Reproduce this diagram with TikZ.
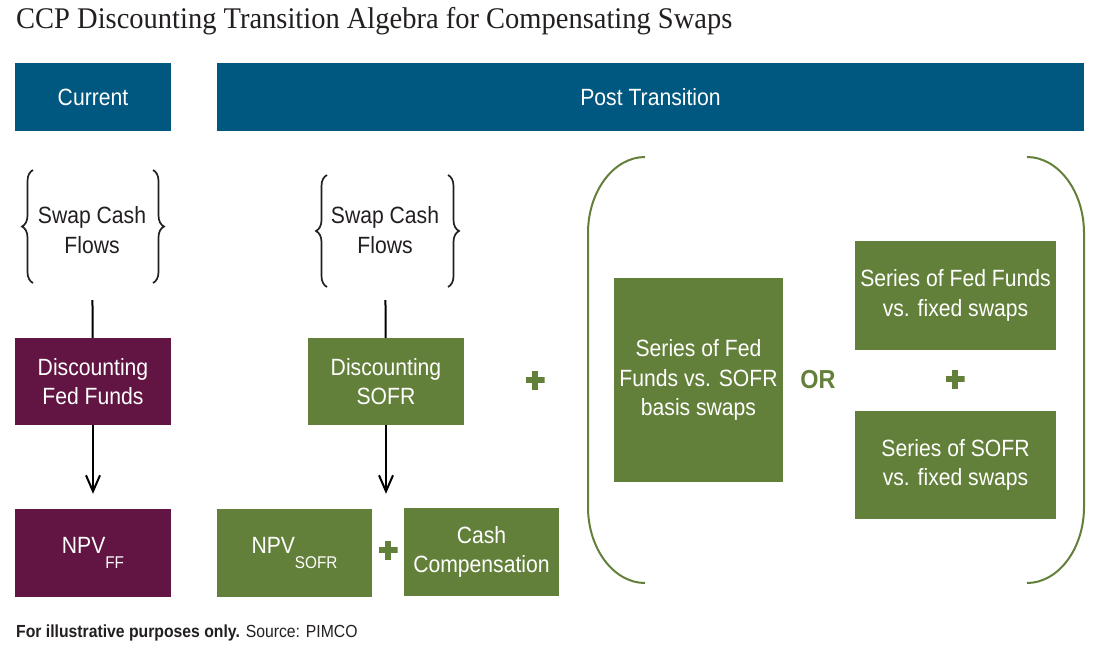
\documentclass[tikz,border=0pt]{standalone}
\usepackage{fontspec}
\setmainfont{Liberation Sans}[FakeStretch=0.9]
\newfontfamily\titlefont{Liberation Serif}[FakeStretch=0.95]
\usetikzlibrary{positioning, arrows.meta, decorations.pathreplacing}
\definecolor{pimcoblue}{RGB}{0,87,127}
\definecolor{pimcoplum}{RGB}{98,20,66}
\definecolor{pimcogreen}{RGB}{99,128,58}
\definecolor{inkgray}{RGB}{35,31,32}

\begin{document}
\begin{tikzpicture}[
x=1pt, y=-1pt,
    header/.style={fill=pimcoblue, text=white, minimum height=68pt, inner sep=0pt, font=\fontsize{23.5}{28}\selectfont},
    plumbox/.style={fill=pimcoplum, text=white, align=center, inner sep=0pt, font=\fontsize{23.5}{29.5}\selectfont},
    greenbox/.style={fill=pimcogreen, text=white, align=center, inner sep=0pt, font=\fontsize{23.5}{29.5}\selectfont},
    flows/.style={align=center, inner sep=0pt, minimum width=110pt, minimum height=140pt, text=inkgray, font=\fontsize{23.5}{29.5}\selectfont},
    curly/.style={draw=inkgray, line width=1.7pt, decorate, decoration={brace, amplitude=11pt}},
    line/.style={draw=black, line width=2pt},
    arrow/.style={line, -{Straight Barb[length=16pt, width=14pt]}, shorten >=15pt},
    plussign/.style={minimum size=19pt, inner sep=0pt, path picture={
        \fill[pimcogreen] ([shift={(-9.5pt,-3pt)}]path picture bounding box.center) rectangle +(19pt,6pt);
        \fill[pimcogreen] ([shift={(-3pt,-9.5pt)}]path picture bounding box.center) rectangle +(6pt,19pt);}},
    orword/.style={text=pimcogreen, inner sep=0pt, font=\bfseries\fontsize{26}{30}\selectfont},
    paren/.style={draw=pimcogreen, line width=2pt}
]
    \useasboundingbox (0,0) rectangle (1100,654);

    % --- Title and footnote ---
    \node[anchor=west, inner sep=0pt, text=inkgray, font=\titlefont\fontsize{30}{34}\selectfont] (title) at (16,21) {CCP Discounting Transition Algebra for Compensating Swaps};
    \node[anchor=west, inner sep=0pt, text=inkgray, font=\fontsize{17.5}{21}\selectfont] (source) at (16,633) {\textbf{For illustrative purposes only.} Source: PIMCO};

    % --- Column headers ---
    \node[header, minimum width=156pt] (current) at (93,97) {Current};
    \node[header, minimum width=867pt] (post) at (650.5,97) {Post Transition};

    % --- Current: Fed Funds discounting ---
    \node[flows] (flowsFF) at (92,230) {Swap Cash\\Flows};
    \draw[curly] (33,283) -- (33,170);
    \draw[curly] (153,170) -- (153,283);
    \node[plumbox, minimum width=156pt, minimum height=87pt] (discFF) at (93,381.5) {Discounting\\Fed Funds};
    \node[plumbox, minimum width=156pt, minimum height=88pt] (npvFF) at (93,553) {\raisebox{3pt}{NPV\raisebox{-15pt}{\fontsize{17}{17}\selectfont FF}}};
    \draw[line] (flowsFF) -- (discFF);
    \draw[arrow] (discFF) -- (npvFF);

    % --- Post transition: SOFR discounting ---
    \node[flows] (flowsSOFR) at (385,230) {Swap Cash\\Flows};
    \draw[curly] (327,287) -- (327,175);
    \draw[curly] (448,175) -- (448,287);
    \node[greenbox, minimum width=156pt, minimum height=87pt] (discSOFR) at (386,381.5) {Discounting\\SOFR};
    \node[greenbox, minimum width=155pt, minimum height=88pt] (npvSOFR) at (294.5,553) {\raisebox{3pt}{NPV\raisebox{-15pt}{\fontsize{17}{17}\selectfont SOFR}}};
    \node[plussign] (plusNPV) at (388,550) {};
    \node[greenbox, minimum width=155pt, minimum height=88pt] (cashComp) at (481.5,552) {Cash\\Compensation};
    \draw[line] (flowsSOFR) -- (discSOFR);
    \draw[arrow] (discSOFR.south) -- (discSOFR.south |- npvSOFR.north);

    \node[plussign] (plusMain) at (535,380) {};

    % --- Compensating swap packages ---
    \draw[paren] (645,157) .. controls (614,157) and (588,191) .. (588,233) -- (588,507) .. controls (588,549) and (614,583) .. (645,583);
    \draw[paren] (1027,157) .. controls (1058,157) and (1084,191) .. (1084,233) -- (1084,507) .. controls (1084,549) and (1058,583) .. (1027,583);

    \node[greenbox, minimum width=169pt, minimum height=204pt] (basis) at (698.5,380) {Series of Fed\\Funds vs. SOFR\\basis swaps};
    \node[orword] (or) at (818,380) {OR};
    \node[greenbox, minimum width=201pt, minimum height=109pt] (ffFixed) at (955.5,295.5) {Series of Fed Funds\\vs. fixed swaps};
    \node[plussign] (plusRight) at (955,379) {};
    \node[greenbox, minimum width=201pt, minimum height=108pt] (sofrFixed) at (955.5,465) {Series of SOFR\\vs. fixed swaps};

\end{tikzpicture}
\end{document}
